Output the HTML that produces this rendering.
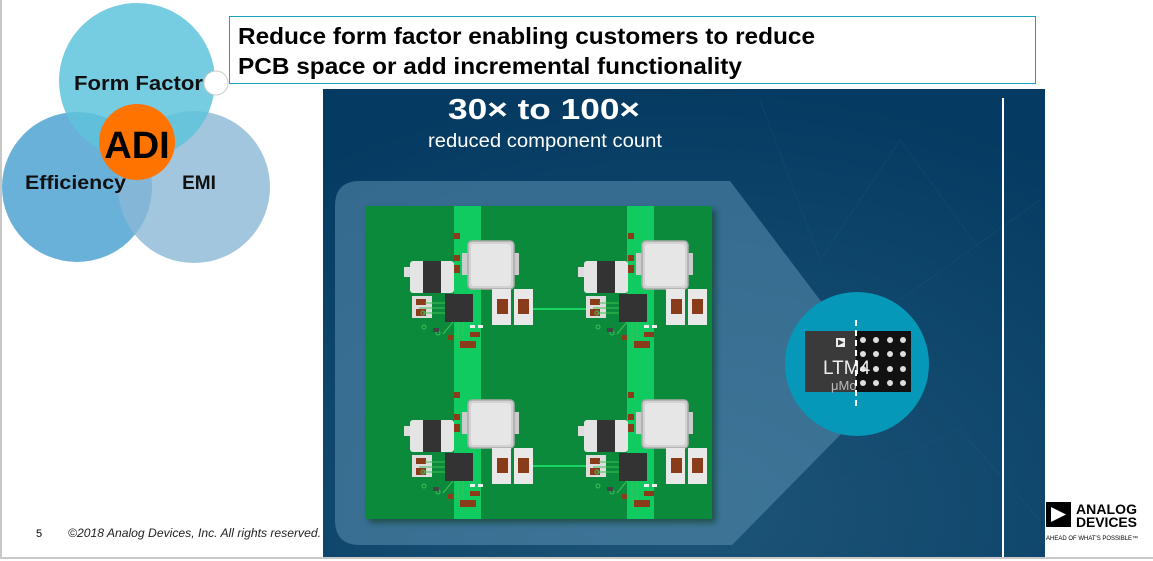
<!DOCTYPE html>
<html><head><meta charset="utf-8"><style>
html,body{margin:0;padding:0;background:#fff;}
body{width:1153px;height:561px;overflow:hidden;position:relative;font-family:"Liberation Sans",Arial,sans-serif;}
</style></head><body>
<svg width="1153" height="561" viewBox="0 0 1153 561" xmlns="http://www.w3.org/2000/svg" style="position:absolute;left:0;top:0">
<defs>
<radialGradient id="bg" cx="0.5" cy="0.9" r="0.9">
<stop offset="0" stop-color="#1d5578"/><stop offset="1" stop-color="#053b62"/>
</radialGradient>
<filter id="sh" x="-20%" y="-20%" width="140%" height="140%"><feGaussianBlur stdDeviation="3"/></filter>
<g id="mod">
 <rect x="-64" y="26" width="14" height="10" fill="#ddd"/>
 <rect x="-58" y="20" width="44" height="32" rx="3" fill="#e4e4e4"/>
 <rect x="-45" y="20" width="18" height="32" fill="#333"/>
 <rect x="-6" y="12" width="6" height="22" fill="#ccc"/>
 <rect x="46" y="12" width="5" height="22" fill="#ccc"/>
 <rect x="0" y="0" width="46" height="48" rx="4" fill="#d2d2d2" stroke="#a9a9a9" stroke-width="1.5"/>
 <rect x="3" y="3" width="40" height="42" rx="3" fill="#e6e6e6"/>
 <rect x="-14" y="-8" width="6" height="6" fill="#8a3b1a"/>
 <rect x="-14" y="24" width="6" height="8" fill="#8a3b1a"/>
 <rect x="-14" y="14" width="6" height="6" fill="#8a3b1a"/>
 <rect x="-56" y="55" width="20" height="22" fill="#ddd"/>
 <rect x="-52" y="58" width="10" height="6" fill="#8a3b1a"/>
 <rect x="-52" y="68" width="10" height="7" fill="#8a3b1a"/>
 <rect x="-23" y="53" width="28" height="28" fill="#333"/>
 <g fill="none" stroke="#3fbf55" stroke-width="1">
  <path d="M-23 62 h-20 M-23 67 h-26 M-23 72 h-22 M-10 81 v20 M-5 81 v18 M-15 81 l-10 12"/>
  <circle cx="-45" cy="72" r="2"/><circle cx="-30" cy="92" r="2"/><circle cx="-44" cy="86" r="2"/>
 </g>
 <rect x="24" y="48" width="19" height="36" fill="#e8e8e8"/>
 <rect x="29" y="58" width="11" height="15" fill="#8a3b1a"/>
 <rect x="46" y="48" width="19" height="36" fill="#e8e8e8"/>
 <rect x="50" y="58" width="11" height="15" fill="#8a3b1a"/>
 <rect x="-8" y="100" width="16" height="7" fill="#8a3b1a"/>
 <rect x="2" y="91" width="10" height="5" fill="#8a3b1a"/>
 <rect x="-20" y="94" width="5" height="5" fill="#8a3b1a"/>
 <rect x="-35" y="87" width="6" height="4" fill="#444"/>
 <rect x="2" y="84" width="5" height="3" fill="#eee"/><rect x="10" y="84" width="5" height="3" fill="#eee"/>
</g>
</defs>
<line x1="1" y1="0" x2="1" y2="558" stroke="#c8c8c8" stroke-width="2"/>
<line x1="0" y1="558" x2="1153" y2="558" stroke="#c8c8c8" stroke-width="2"/>
<rect x="323" y="89" width="722" height="468" fill="url(#bg)"/>
<g stroke="#2c6285" stroke-width="0.6" opacity="0.35" fill="none">
<path d="M760 100 L820 260 L900 140 L980 250 M840 480 L960 430 L1040 520 M620 470 L760 540 M900 300 L1040 200"/>
</g>
<line x1="1003" y1="98" x2="1003" y2="557" stroke="#fff" stroke-width="2"/>
<text x="448" y="119" font-size="29" font-weight="bold" fill="#fff" textLength="192" lengthAdjust="spacingAndGlyphs">30× to 100×</text>
<text x="428" y="147" font-size="19" fill="#fff" textLength="234" lengthAdjust="spacingAndGlyphs">reduced component count</text>
<path d="M360 181 H730 L820 300 L856 340 L850 425 L732 545 H360 Q335 545 335 520 V206 Q335 181 360 181 Z" fill="#5a8fb0" opacity="0.55"/>
<rect x="369" y="210" width="347" height="313" fill="#0a3a20" opacity="0.6" filter="url(#sh)"/>
<rect x="365" y="206" width="347" height="313" fill="#0b8a3c"/>
<rect x="454" y="206" width="27" height="313" fill="#10cc60"/>
<rect x="627" y="206" width="27" height="313" fill="#10cc60"/>
<line x1="531" y1="309" x2="592" y2="309" stroke="#19d463" stroke-width="2"/>
<line x1="531" y1="466" x2="592" y2="466" stroke="#19d463" stroke-width="2"/>
<use href="#mod" x="468" y="241"/>
<use href="#mod" x="642" y="241"/>
<use href="#mod" x="468" y="400"/>
<use href="#mod" x="642" y="400"/>
<circle cx="857" cy="364" r="72" fill="#0698b8"/>
<rect x="805" y="331" width="106" height="61" fill="#3a3a3a"/>
<rect x="856" y="331" width="55" height="61" fill="#111"/>
<g fill="#ddd">
<circle cx="863" cy="340" r="3"/><circle cx="876" cy="340" r="3"/><circle cx="890" cy="340" r="3"/><circle cx="903" cy="340" r="3"/>
<circle cx="863" cy="354" r="3"/><circle cx="876" cy="354" r="3"/><circle cx="890" cy="354" r="3"/><circle cx="903" cy="354" r="3"/>
<circle cx="863" cy="369" r="3"/><circle cx="876" cy="369" r="3"/><circle cx="890" cy="369" r="3"/><circle cx="903" cy="369" r="3"/>
<circle cx="863" cy="383" r="3"/><circle cx="876" cy="383" r="3"/><circle cx="890" cy="383" r="3"/><circle cx="903" cy="383" r="3"/>
</g>
<rect x="836" y="338" width="9" height="9" fill="#eee"/><path d="M838 339.5 L844 342.5 L838 345.5Z" fill="#3a3a3a"/>
<rect x="808" y="355" width="48" height="22" fill="#3a3a3a"/>
<text x="823" y="374" font-size="19" fill="#eee">LTM4</text>
<rect x="828" y="377" width="28" height="14" fill="#3a3a3a"/>
<text x="831" y="390" font-size="13" fill="#bbb">μMo</text>
<line x1="856" y1="320" x2="856" y2="410" stroke="#fff" stroke-width="2" stroke-dasharray="6,4"/>
<circle cx="77" cy="187" r="75" fill="#5aa8d6" opacity="0.9"/>
<circle cx="194" cy="187" r="76" fill="#8ab8d6" opacity="0.8"/>
<circle cx="137" cy="81" r="78" fill="#5ec3db" opacity="0.85"/>
<circle cx="137" cy="142" r="38" fill="#ff7300"/>
<text x="137" y="158" font-size="38" font-weight="bold" fill="#000" text-anchor="middle">ADI</text>
<text x="74" y="90" font-size="20" font-weight="bold" fill="#111" textLength="129" lengthAdjust="spacingAndGlyphs">Form Factor</text>
<text x="25" y="189" font-size="19" font-weight="bold" fill="#111" textLength="101" lengthAdjust="spacingAndGlyphs">Efficiency</text>
<text x="199" y="189" font-size="19" font-weight="bold" fill="#111" text-anchor="middle">EMI</text>
<rect x="229.5" y="16.5" width="806" height="67" fill="#fff" stroke="#1aa0c0" stroke-width="1"/>
<circle cx="216" cy="83" r="12" fill="#fff" stroke="#ccc" stroke-width="1"/>
<text x="238" y="44" font-size="23" font-weight="bold" fill="#000" textLength="577" lengthAdjust="spacingAndGlyphs">Reduce form factor enabling customers to reduce</text>
<text x="238" y="74" font-size="23" font-weight="bold" fill="#000" textLength="504" lengthAdjust="spacingAndGlyphs">PCB space or add incremental functionality</text>
<text x="36" y="537" font-size="11" fill="#000">5</text>
<text x="68" y="537" font-size="12" font-style="italic" fill="#222" textLength="253" lengthAdjust="spacingAndGlyphs">©2018 Analog Devices, Inc. All rights reserved.</text>
<rect x="1046" y="502" width="25" height="25" fill="#000"/>
<path d="M1051 507 L1066 514.5 L1051 522 Z" fill="#fff"/>
<text x="1076" y="514" font-size="14" font-weight="bold" fill="#000" textLength="61">ANALOG</text>
<text x="1076" y="527" font-size="14" font-weight="bold" fill="#000" textLength="61">DEVICES</text>
<text x="1046" y="540" font-size="6" fill="#000">AHEAD OF WHAT'S POSSIBLE™</text>
</svg>
</body></html>
